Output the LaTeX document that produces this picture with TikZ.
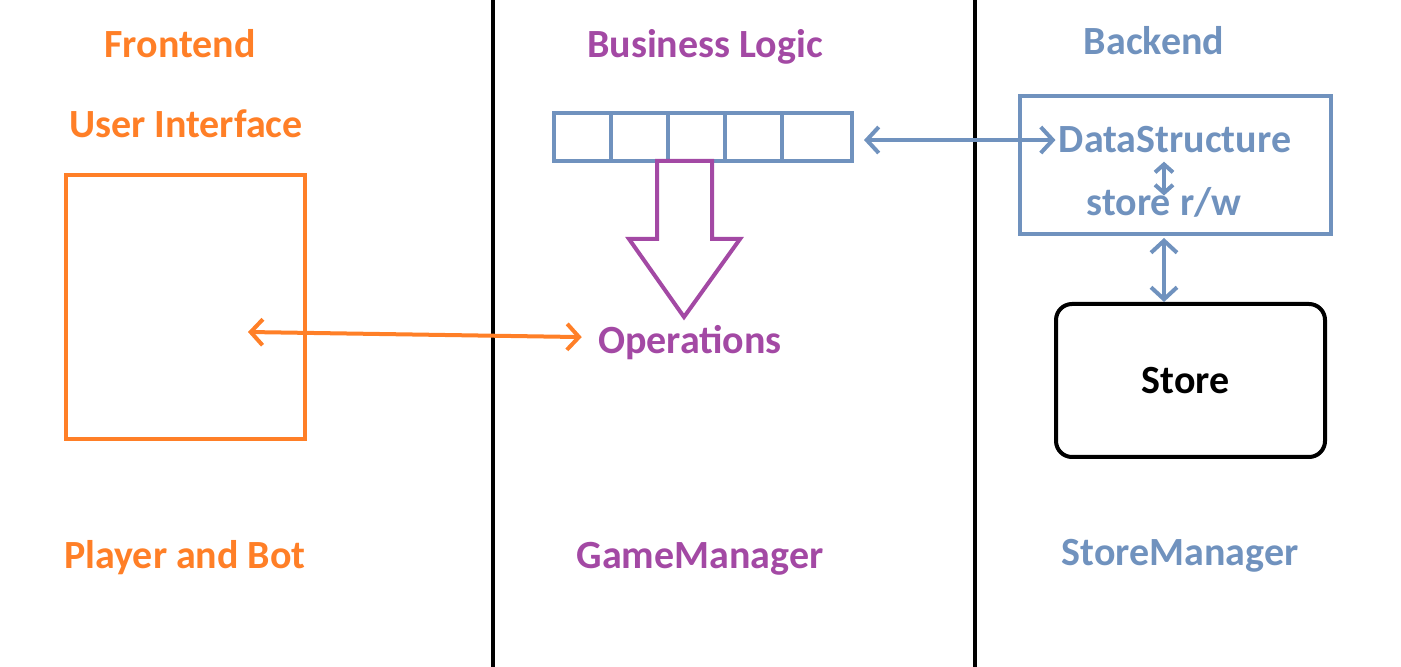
\documentclass[tikz,border=0pt]{standalone}
\usepackage{fontspec}
\setmainfont{Carlito}
\usetikzlibrary{arrows.meta}
\definecolor{uiorange}{RGB}{255,127,39}
\definecolor{logicpurple}{RGB}{163,73,164}
\definecolor{storeblue}{RGB}{112,146,190}
\tikzset{
  lbl/.style={font=\fontsize{20}{24}\selectfont\bfseries,inner sep=0pt,anchor=base},
  dbl/.style={{Straight Barb[length=6pt,width=13pt]}-{Straight Barb[length=6pt,width=13pt]},line width=2pt},
  sdbl/.style={{Straight Barb[length=4pt,width=9pt]}-{Straight Barb[length=4pt,width=9pt]},line width=2pt},
}
\begin{document}
\begin{tikzpicture}[x=0.5pt,y=-0.5pt]
\useasboundingbox (0,0) rectangle (1401,667);
% layer borders
\draw[line width=2pt] (493,0)--(493,667);
\draw[line width=2pt] (975,0)--(975,667);
% frontend
\node[lbl,uiorange] (fe) at (180,58) {Frontend};
\node[lbl,uiorange] (uitxt) at (186,138) {User Interface};
\node[draw=uiorange,line width=2pt,minimum width=119.5pt,minimum height=132pt] (ui) at (185.5,307) {};
\node[lbl,uiorange] (pb) at (185,568) {Player and Bot};
\coordinate (uiend) at (248,332);
% business logic
\node[lbl,logicpurple] (bl) at (705,58) {Business Logic};
\node[draw=storeblue,line width=2pt,minimum width=149pt,minimum height=24pt] (arr) at (703,137) {};
\foreach \x in {611,668,725,782}
  \draw[storeblue,line width=2pt] (\x,113)--(\x,161);
\draw[logicpurple,line width=2pt,fill=white] (657,161)--(657,239)--(629,239)--(684,317)--(740,239)--(712,239)--(712,161)--cycle;
\node[lbl,logicpurple] (ops) at (690,354) {Operations};
\node[lbl,logicpurple] (gm) at (700,568) {GameManager};
% backend
\node[lbl,storeblue] (be) at (1154,55) {Backend};
\node[draw=storeblue,line width=2pt,minimum width=155.5pt,minimum height=69pt] (dsbox) at (1175.5,165) {};
\node[lbl,storeblue] (ds) at (1175,153) {DataStructure};
\node[lbl,storeblue] (st) at (1164,216) {store r/w};
\node[draw,line width=2pt,rounded corners=8pt,minimum width=134.5pt,minimum height=76.5pt,
  font=\fontsize{20}{24}\selectfont\bfseries] (store) at (1190.5,380.5) {\hspace*{-5pt}Store};
\node[lbl,storeblue] (sm) at (1180,565) {StoreManager};
% connectors
\draw[dbl,uiorange] (uiend)--([xshift=-8pt,yshift=3pt]ops.west);
\draw[dbl,storeblue,shorten <=5pt,shorten >=1.5pt] (arr.east |- ds.west)--(ds.west);
\draw[sdbl,storeblue] ([yshift=-4pt]ds.south -| st.north)--([yshift=-4pt]st.north);
\draw[dbl,storeblue,shorten <=1pt] (st.south |- dsbox.south)--(st.south |- store.north);
\end{tikzpicture}
\end{document}
